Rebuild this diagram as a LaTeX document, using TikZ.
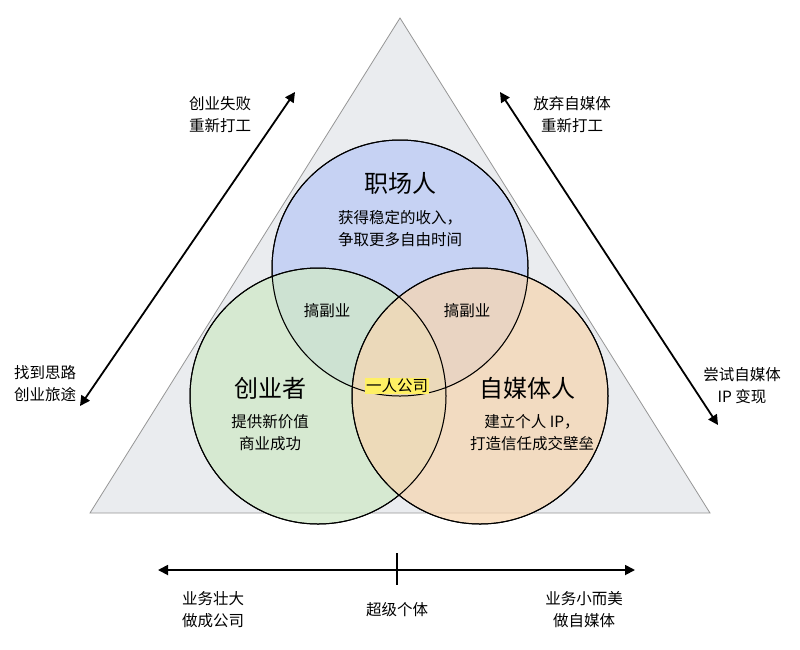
\documentclass[tikz,border=0pt]{standalone}
\usepackage{fontspec}
\setmainfont{Noto Sans CJK SC}
\usetikzlibrary{arrows.meta}
\begin{document}
\begin{tikzpicture}[x=1pt,y=-1pt,
  sm/.style={font=\fontsize{15.5}{22}\selectfont,align=center,inner sep=1pt},
  big/.style={font=\fontsize{24}{28}\selectfont,inner sep=1pt},
  circ/.style={draw=black,line width=1pt,fill opacity=0.75},
  arr/.style={line width=1.8pt,{Triangle[length=10pt,width=10pt]}-{Triangle[length=10pt,width=10pt]}}]
\useasboundingbox (0,0) rectangle (800,649);
\fill[white] (0,0) rectangle (800,649);
\draw[fill={rgb,255:red,234;green,236;blue,239},draw={rgb,255:red,150;green,150;blue,150},line width=0.8pt] (400,18) -- (710,513) -- (90,513) -- cycle;
\fill[circ,fill={rgb,255:red,186;green,202;blue,245}] (400,268) circle (128);
\fill[circ,fill={rgb,255:red,208;green,232;blue,200}] (318,396) circle (128);
\fill[circ,fill={rgb,255:red,246;green,214;blue,178}] (480,396) circle (128);
\draw[line width=1pt] (400,268) circle (128) (318,396) circle (128) (480,396) circle (128);
\node[big] (t1) at (400,183) {职场人};
\node[sm] (d1) at (400,229) {获得稳定的收入，\\争取更多自由时间};
\node[big] (t2) at (270,388) {创业者};
\node[sm] (d2) at (270,433) {提供新价值\\商业成功};
\node[big] (t3) at (527,388) {自媒体人};
\node[sm] (d3) at (532,433) {建立个人 IP，\\打造信任成交壁垒};
\node[sm] (s1) at (327,311) {搞副业};
\node[sm] (s2) at (467,311) {搞副业};
\node[sm,fill={rgb,255:red,255;green,240;blue,100}] (c) at (397,386) {一人公司};
\coordinate (la) at (80,406); \coordinate (lb) at (295,92);
\coordinate (ra) at (500,92); \coordinate (rb) at (718,425);
\coordinate (ba) at (158,570); \coordinate (bb) at (635,570);
\coordinate (ta) at (397,553); \coordinate (tb) at (397,585);
\draw[arr] (la) -- (lb);
\draw[arr] (ra) -- (rb);
\draw[arr] (ba) -- (bb);
\draw[line width=1.8pt] (ta) -- (tb);
\node[sm] (l1) at (220,115) {创业失败\\重新打工};
\node[sm] (l2) at (45,384) {找到思路\\创业旅途};
\node[sm] (r1) at (572,115) {放弃自媒体\\重新打工};
\node[sm] (r2) at (742,386) {尝试自媒体\\IP 变现};
\node[sm] (b1) at (213,610) {业务壮大\\做成公司};
\node[sm] (b2) at (397,610) {超级个体};
\node[sm] (b3) at (584,610) {业务小而美\\做自媒体};
\end{tikzpicture}
\end{document}
